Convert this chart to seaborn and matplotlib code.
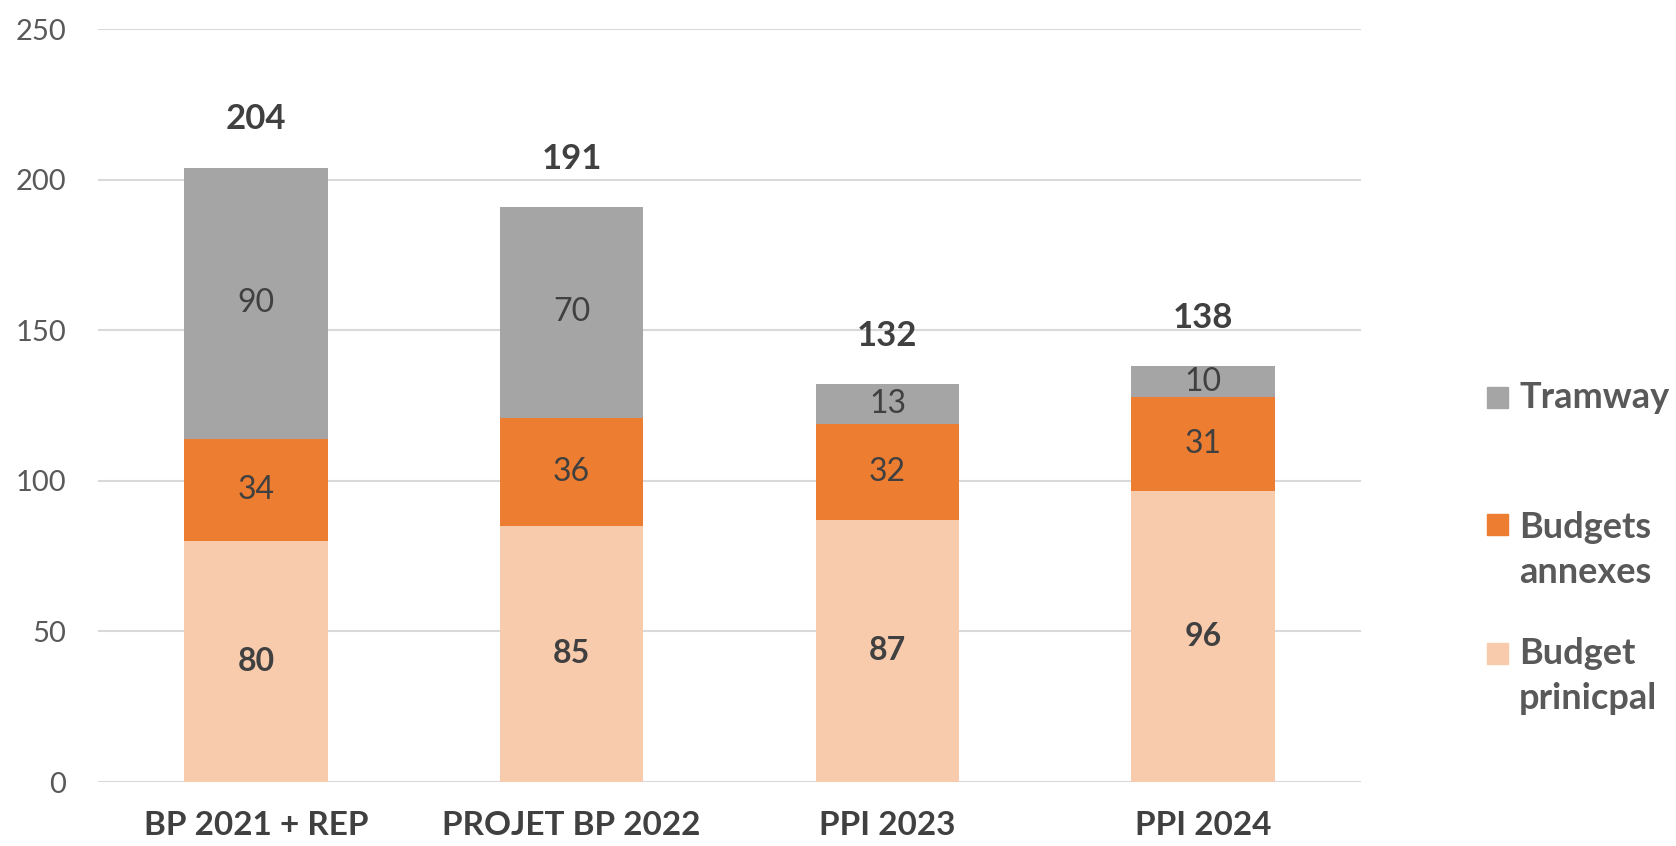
import matplotlib.pyplot as plt
from matplotlib.patches import Rectangle
import seaborn as sns
import numpy as np

# Données
categories = ['BP 2021 + REP', 'PROJET BP 2022', 'PPI 2023', 'PPI 2024']
budget_principal = [80, 85, 87, 96.5]
budgets_annexes = [34, 36, 32, 31.2]
tramway = [90, 70, 13, 10.3]
totaux = [204, 191, 132, 138]

# Couleurs
c_tram = '#A5A5A5'
c_annexes = '#ED7D31'
c_principal = '#F8CBAD'
c_texte = '#404040'
c_axe = '#595959'

sns.set_theme(style='white')
plt.rcParams['font.family'] = ['Lato', 'DejaVu Sans']

W, H = 1676, 846
fig = plt.figure(figsize=(W / 100, H / 100), dpi=100)
ax = fig.add_axes([98 / W, 1 - 782 / H, (1361 - 98) / W, (782 - 29) / H])

cum1 = np.array(budget_principal)
cum2 = cum1 + np.array(budgets_annexes)
cum3 = cum2 + np.array(tramway)

# barres empilées : on dessine du haut vers le bas
for haut, couleur in [(cum3, c_tram), (cum2, c_annexes), (cum1, c_principal)]:
  sns.barplot(x=categories, y=haut, color=couleur, saturation=1, width=0.455,
              errorbar=None, ax=ax, zorder=2, linewidth=0)

# étiquettes des segments
for i in range(len(categories)):
  ax.text(i, cum1[i] / 2, f'{round(budget_principal[i])}', ha='center', va='center',
          fontsize=23, fontweight='bold', color=c_texte, zorder=3)
  ax.text(i, cum1[i] + budgets_annexes[i] / 2, f'{round(budgets_annexes[i])}', ha='center',
          va='center', fontsize=23, color=c_texte, zorder=3)
  ax.text(i, cum2[i] + tramway[i] / 2, f'{round(tramway[i])}', ha='center', va='center',
          fontsize=23, color=c_texte, zorder=3)
  ax.text(i, cum3[i] + 16, f'{totaux[i]}', ha='center', va='center',
          fontsize=25, fontweight='bold', color=c_texte, zorder=3)

ax.set_ylim(0, 250)
ax.set_xlim(-0.5, 3.5)
ax.set_yticks(range(0, 251, 50))
ax.yaxis.grid(True, color='#D9D9D9', linewidth=1.5, zorder=0)
ax.set_axisbelow(True)
for s in ax.spines.values():
  s.set_visible(False)
ax.tick_params(axis='y', labelsize=21, labelcolor=c_axe, length=0, pad=23)
ax.tick_params(axis='x', labelsize=24, labelcolor=c_texte, length=0, pad=21)
for lab in ax.get_xticklabels():
  lab.set_fontweight('bold')
ax.set_xlabel('')
ax.set_ylabel('')

# légende à droite
legende = [
  (c_tram, 'Tramway', 387, 397),
  (c_annexes, 'Budgets\nannexes', 514, 550),
  (c_principal, 'Budget\nprinicpal', 643, 676),
]
for couleur, texte, y_carre, y_texte in legende:
  fig.add_artist(Rectangle((1487 / W, 1 - (y_carre + 21) / H), 21 / W, 21 / H,
                           transform=fig.transFigure, color=couleur))
  fig.text(1519 / W, 1 - y_texte / H, texte, ha='left', va='center', fontsize=26,
           fontweight='bold', color=c_axe, linespacing=1.45)

fig.savefig('out.png', dpi=100)
